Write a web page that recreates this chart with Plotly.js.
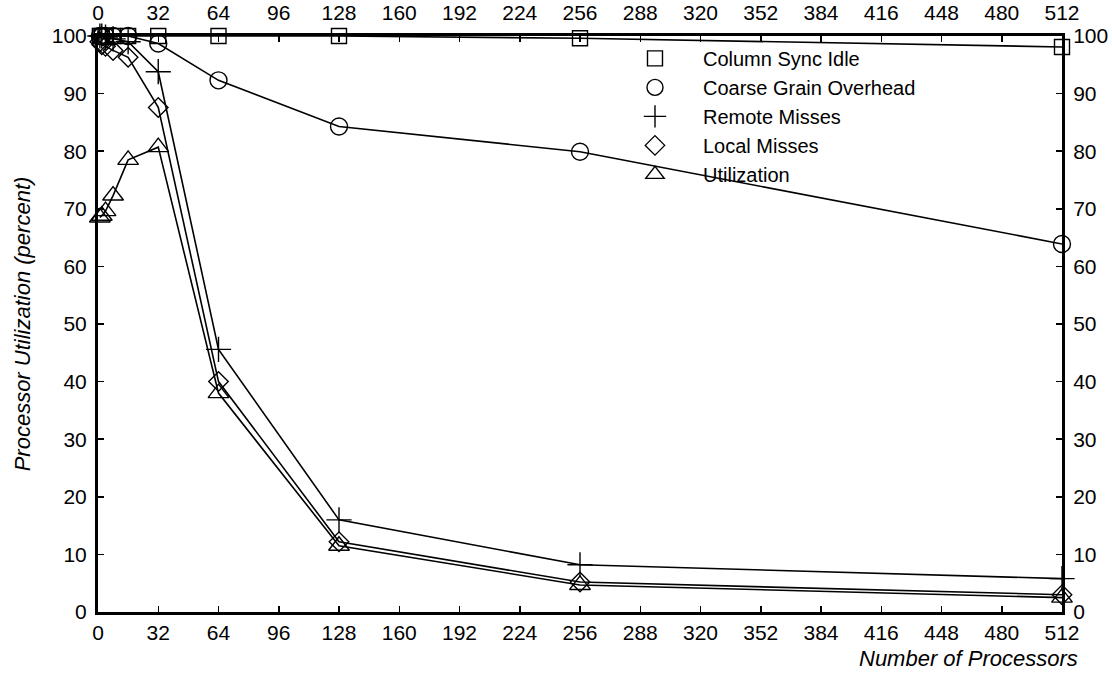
<!DOCTYPE html>
<html>
<head>
<meta charset="utf-8">
<script src="https://cdn.plot.ly/plotly-3.0.1.min.js"></script>
<style>html,body{margin:0;padding:0;background:#fff;}#chart{width:1112px;height:679px;}</style>
</head>
<body>
<div id="chart"></div>
<script>
var processors = [1, 2, 4, 8, 16, 32, 64, 128, 256, 512];
var columnSyncIdle = [100, 100, 100, 100, 100, 100, 100, 100, 99.6, 98.1];
var coarseGrainOverhead = [100, 100, 100, 100, 100, 98.7, 92.3, 84.3, 79.9, 63.9];
var remoteMisses = [100, 100, 99.8, 99.5, 99, 93.8, 45.6, 16, 8.2, 5.8];
var localMisses = [99, 98.5, 98.2, 97.5, 96.3, 87.6, 40, 12.2, 5.2, 3];
var utilization = [68.5, 68.8, 69.6, 72.3, 78.5, 80.7, 38, 11.5, 4.7, 2.5];
var seriesNames = ['Column Sync Idle', 'Coarse Grain Overhead', 'Remote Misses', 'Local Misses', 'Utilization'];
var xTicks = [0, 32, 64, 96, 128, 160, 192, 224, 256, 288, 320, 352, 384, 416, 448, 480, 512];
var yTicks = [0, 10, 20, 30, 40, 50, 60, 70, 80, 90, 100];

var seriesData = [columnSyncIdle, coarseGrainOverhead, remoteMisses, localMisses, utilization];
var symbols = ['square-open', 'circle-open', 'cross-thin-open', 'diamond-open', 'triangle-up-open'];
var sizes = [15, 17, 18, 15, 18];

var traces = [];
seriesData.forEach(function (vals, i) {
  traces.push({
    x: processors, y: vals, type: 'scatter', mode: 'lines+markers',
    name: seriesNames[i], showlegend: false, cliponaxis: false,
    line: {color: '#000', width: 1.6},
    marker: {symbol: symbols[i], size: sizes[i], color: '#000', line: {color: '#000', width: 1.4}}
  });
});
seriesData.forEach(function (vals, i) {
  traces.push({
    x: [null], y: [null], type: 'scatter', mode: 'markers',
    name: seriesNames[i], showlegend: true,
    marker: {symbol: symbols[i], size: sizes[i], color: '#000', line: {color: '#000', width: 1.4}}
  });
});
// invisible trace to anchor secondary axes
traces.push({x: [0, 512], y: [0, 100], xaxis: 'x2', yaxis: 'y2', mode: 'markers',
  marker: {opacity: 0}, showlegend: false, hoverinfo: 'skip'});

var FAM = 'Liberation Sans, Arial, sans-serif';
var tickFont = {family: FAM, size: 21, color: '#000'};
var axisCommon = {
  showgrid: false, zeroline: false, showline: true, linecolor: '#000', linewidth: 3,
  ticks: 'inside', ticklen: 6, tickwidth: 1.5, tickcolor: '#000', tickfont: tickFont
};

var layout = {
  width: 1112, height: 679,
  margin: {l: 98, r: 50, t: 36, b: 67},
  paper_bgcolor: '#fff', plot_bgcolor: '#fff',
  font: {family: FAM, color: '#000'},
  xaxis: Object.assign({}, axisCommon, {
    range: [0, 512], tickvals: xTicks, ticktext: xTicks.map(String), ticklabelstandoff: 0
  }),
  yaxis: Object.assign({}, axisCommon, {
    range: [0, 100], tickvals: yTicks, ticktext: yTicks.map(String), ticklabelstandoff: 4,
    title: {text: 'Processor Utilization (percent)', font: {family: FAM, size: 22, style: 'italic'}, standoff: 16}
  }),
  xaxis2: Object.assign({}, axisCommon, {
    overlaying: 'x', side: 'top', anchor: 'y2', range: [0, 512], tickvals: xTicks, ticktext: xTicks.map(String), ticklabelstandoff: 5
  }),
  yaxis2: Object.assign({}, axisCommon, {
    overlaying: 'y', side: 'right', anchor: 'x2', range: [0, 100], tickvals: yTicks, ticktext: yTicks.map(String), ticklabelstandoff: 4
  }),
  legend: {
    x: 0.528, y: 0.995, xanchor: 'left', yanchor: 'top',
    bgcolor: 'rgba(0,0,0,0)', borderwidth: 0,
    font: {family: FAM, size: 20, color: '#000'},
    tracegroupgap: 0, itemwidth: 86
  },
  annotations: [{
    text: 'Number of Processors', xref: 'paper', yref: 'paper', x: 1.019, y: -0.055,
    xanchor: 'right', yanchor: 'top', showarrow: false,
    font: {family: FAM, size: 22, style: 'italic', color: '#000'}
  }],
  showlegend: true
};

Plotly.newPlot('chart', traces, layout, {displayModeBar: false, staticPlot: true});
</script>
</body>
</html>
